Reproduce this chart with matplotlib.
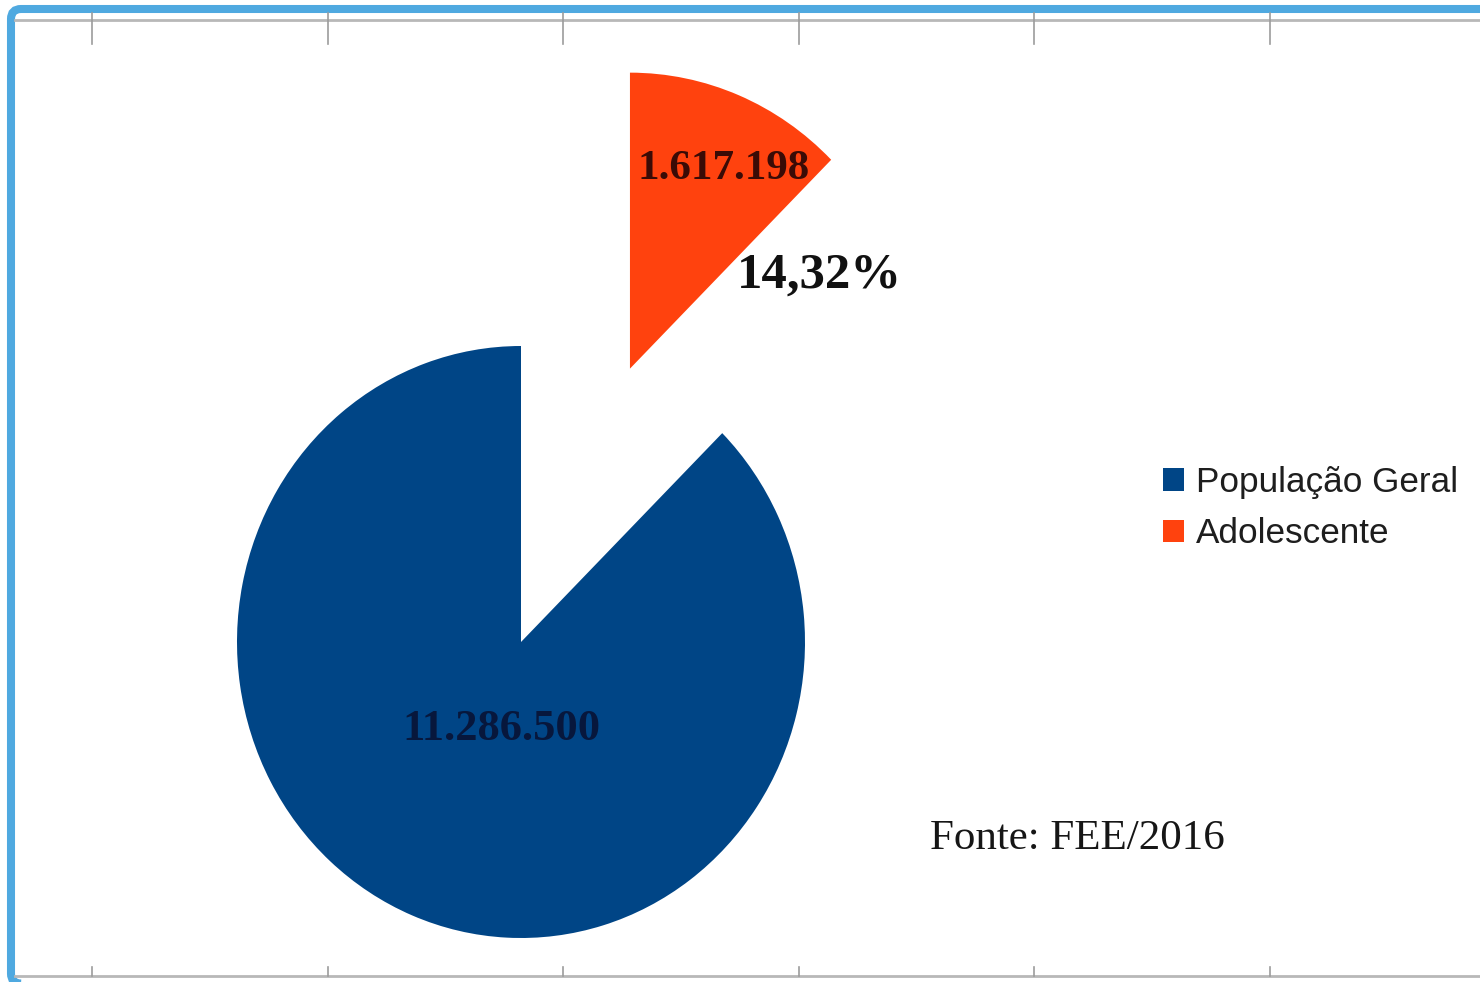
import matplotlib
matplotlib.use("Agg")
import matplotlib.pyplot as plt
from matplotlib.lines import Line2D
from matplotlib.patches import FancyBboxPatch
from matplotlib.transforms import IdentityTransform
from matplotlib.font_manager import FontProperties
import numpy as np

# --- data -------------------------------------------------------------
categories = ["População Geral", "Adolescente"]
populacao = [11286500, 1617198]
value_labels = ["11.286.500", "1.617.198"]
share_label = "14,32%"
source_note = "Fonte: FEE/2016"

# --- style ------------------------------------------------------------
colors = ["#004586", "#ff420e"]
label_colors = ["#07173c", "#3a0b06"]
explode = [0.0, 1.0]

W, H = 1480, 982
fig = plt.figure(figsize=(W / 100, H / 100), dpi=100)
fig.patch.set_facecolor("white")


def fx(px):
    return px / W


def fy(py):
    return 1 - py / H


# pie axes spanning the whole canvas; pie centre and radii in pixels
ax = fig.add_axes([0, 0, 1, 1])
wedges, _ = ax.pie(populacao, colors=colors, explode=explode,
                   startangle=90, radius=1.0,
                   wedgeprops=dict(linewidth=0))
ax.set_aspect("auto")
cx, cy = 521, 642
rx, ry = 284, 296
ax.set_xlim(-cx / rx, (W - cx) / rx)
ax.set_ylim(-(H - cy) / ry, cy / ry)
ax.axis("off")

serif_bold = dict(family="Liberation Serif", weight="bold")

# value labels, anchored at each wedge's own centre (baseline offsets)
label_offsets = [(-0.07, -0.33), (0.33, 0.64)]
label_sizes = [32, 31]
for w, txt, col, fs, (dx, dy) in zip(wedges, value_labels, label_colors,
                                     label_sizes, label_offsets):
    x0, y0 = w.center
    ax.text(x0 + dx * w.r, y0 + dy * w.r, txt, ha="center", va="baseline",
            fontsize=fs, color=col, **serif_bold)

# share label beside the exploded slice
xo, yo = wedges[1].center
ax.text(xo + 0.668, yo + 0.275, share_label, ha="center", va="baseline",
        fontsize=36.5, color="#111111", **serif_bold)

# legend
leg = ax.legend(wedges, categories, loc="upper left",
                bbox_to_anchor=(fx(1163), fy(466)),
                bbox_transform=fig.transFigure, frameon=False,
                prop=FontProperties(family="Liberation Sans", size=25.3),
                handlelength=0.6, handleheight=0.62, handletextpad=0.35,
                labelspacing=0.52, borderpad=0, borderaxespad=0)
for t in leg.get_texts():
    t.set_color("#1e1e1e")

# source note
fig.text(fx(1077), fy(849), source_note, ha="center", va="baseline",
         fontsize=31, family="Liberation Serif", color="#161616")

# chart frame: gray rules with tick marks at top and bottom
rule_col = "#b8b8b8"
tick_col = "#9c9c9c"
fig.add_artist(Line2D([fx(15), 1.0], [fy(20), fy(20)], color=rule_col,
                      lw=2.0))
fig.add_artist(Line2D([fx(15), 1.0], [fy(976), fy(976)], color=rule_col,
                      lw=2.0))
for k in range(6):
    tx = 92 + k * 235.6
    fig.add_artist(Line2D([fx(tx), fx(tx)], [fy(13), fy(44)],
                          color=tick_col, lw=1.2))
    fig.add_artist(Line2D([fx(tx), fx(tx)], [fy(967), fy(976)],
                          color=tick_col, lw=1.2))

# outer blue rounded border
border = FancyBboxPatch((11, H - 983.5), 1540, 974.5,
                        boxstyle="round,pad=0,rounding_size=10",
                        transform=IdentityTransform(), fill=False,
                        edgecolor="#4fa9e0", linewidth=5.8)
fig.add_artist(border)

fig.savefig("out.png", dpi=100, facecolor="white")
